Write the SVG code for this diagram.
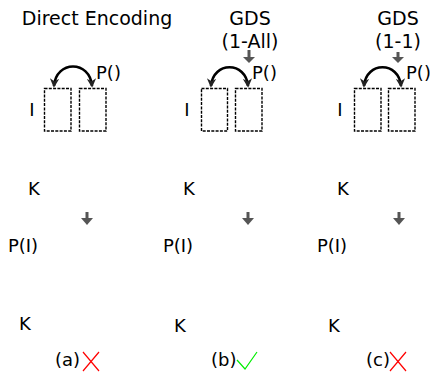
<svg xmlns="http://www.w3.org/2000/svg" width="430" height="374" viewBox="0 0 430 374">
<defs>
<style>
text{font-family:"DejaVu Sans","Liberation Sans",sans-serif;font-size:18px;fill:#000}
.m{text-anchor:middle}
.tt{font-size:19px}
.box{fill:none;stroke:#000;stroke-width:1.4;stroke-dasharray:3,1.3}
.arc{fill:none;stroke:#000;stroke-width:2.6;marker-start:url(#ah);marker-end:url(#ah)}
.gs{stroke:#555;stroke-width:3}
.gh{fill:#555}
</style>
<marker id="ah" viewBox="0 0 10 10" refX="8" refY="5" markerWidth="3.6" markerHeight="3.6" orient="auto-start-reverse" markerUnits="strokeWidth">
<path d="M0,0 L10,5 L0,10 L3,5 Z" fill="#222"/>
</marker>
</defs>

<g id="titles">
<text id="t-a" class="m tt" x="97" y="25">Direct Encoding</text>
<text id="t-b1" class="m tt" x="250" y="25">GDS</text>
<text id="t-b2" class="m tt" x="250" y="48">(1-All)</text>
<text id="t-c1" class="m tt" x="398" y="25">GDS</text>
<text id="t-c2" class="m tt" x="398" y="48">(1-1)</text>
</g>

<g id="panel-a">
<text x="32" y="116" class="m">I</text>
<rect class="box" x="44.5" y="88.5" width="26.5" height="42.5"/>
<rect class="box" x="79.5" y="88.5" width="26.5" height="42.5"/>
<text x="96" y="79">P()</text>
</g>
<g id="panel-b">
<text x="187" y="116" class="m">I</text>
<rect class="box" x="201.5" y="88.5" width="26" height="42.5"/>
<rect class="box" x="235.5" y="88.5" width="26.5" height="42.5"/>
<text x="252" y="79">P()</text>
</g>
<g id="panel-c">
<text x="340" y="116" class="m">I</text>
<rect class="box" x="354.5" y="88.5" width="26.5" height="42.5"/>
<rect class="box" x="388.5" y="88.5" width="26.5" height="42.5"/>
<text x="406" y="79">P()</text>
</g>

<g id="labels">
<text class="m" x="34" y="195">K</text>
<text class="m" x="189" y="195">K</text>
<text class="m" x="343" y="195">K</text>
<text class="m" x="23" y="252">P(I)</text>
<text class="m" x="178" y="252">P(I)</text>
<text class="m" x="332" y="252">P(I)</text>
<text class="m" x="25" y="330">K</text>
<text class="m" x="180" y="332">K</text>
<text class="m" x="334" y="332">K</text>
</g>

<g id="connectors">
<path class="arc" d="M54,86 C56,60 90,60 92,86"/>
<path class="arc" d="M211,86 C213,61 246,61 248,86"/>
<path class="arc" d="M364,86 C366,61 399,61 401,86"/>
<line class="gs" x1="249" y1="50" x2="249" y2="59"/>
<polygon class="gh" points="243,57 255,57 249,63"/>
<line class="gs" x1="398" y1="52" x2="398" y2="59"/>
<polygon class="gh" points="392,57 404,57 398,63"/>
<line class="gs" x1="87" y1="212" x2="87" y2="220"/>
<polygon class="gh" points="81,218 93,218 87,225"/>
<line class="gs" x1="248" y1="212" x2="248" y2="220"/>
<polygon class="gh" points="242,218 254,218 248,225"/>
<line class="gs" x1="399" y1="212" x2="399" y2="220"/>
<polygon class="gh" points="393,218 405,218 399,225"/>
</g>

<g id="captions">
<text x="55" y="366">(a)</text>
<path d="M83,352 L99,371 M99,352 L83,371" stroke="#f00" stroke-width="1.2" fill="none"/>
<text x="211" y="366">(b)</text>
<path d="M237,360 L245,369 L257,352" stroke="#0e0" stroke-width="1.2" fill="none"/>
<text x="366" y="366">(c)</text>
<path d="M390,352 L406,371 M406,352 L390,371" stroke="#f00" stroke-width="1.2" fill="none"/>
</g>
</svg>
